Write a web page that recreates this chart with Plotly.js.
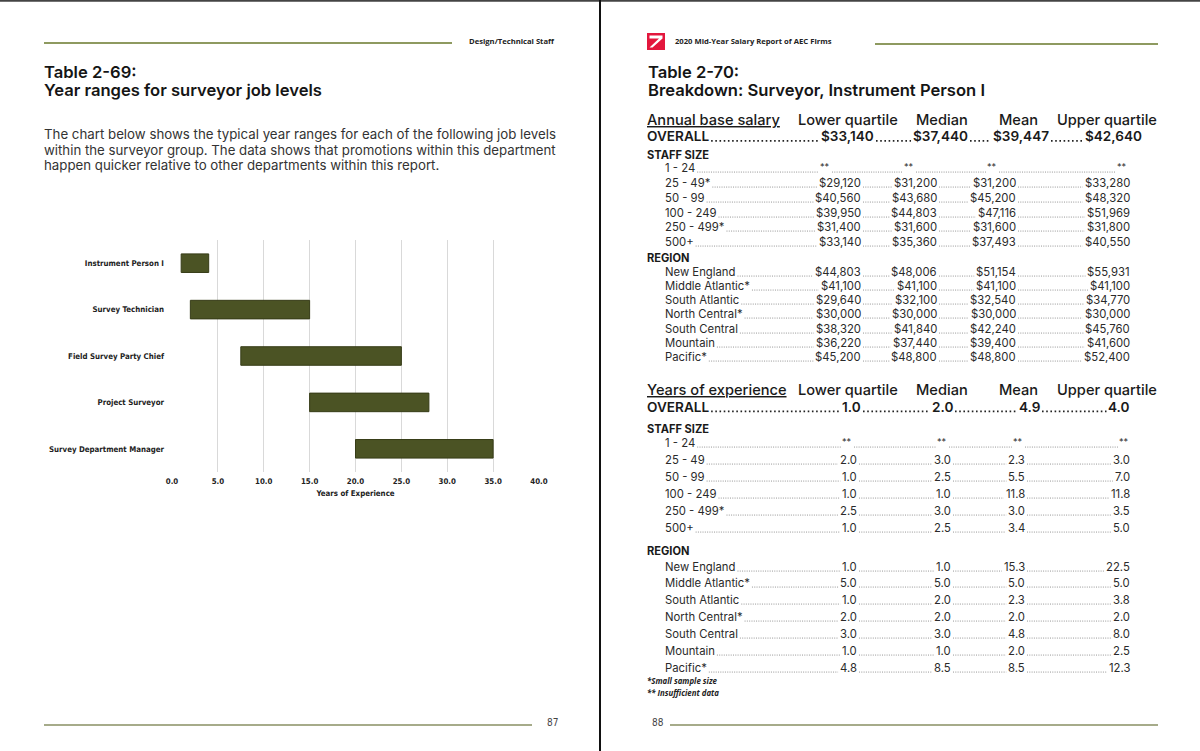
<!DOCTYPE html>
<html>
<head>
<meta charset="utf-8">
<script src="https://cdn.plot.ly/plotly-3.0.1.min.js"></script>
<style>
html,body{margin:0;padding:0;background:#fff;overflow:hidden;}
#chart{width:1200px;height:751px;}
</style>
</head>
<body>
<div id="chart"></div>
<script>
// ---------------- DATA ----------------
const jobLevels = ['Instrument Person I', 'Survey Technician', 'Field Survey Party Chief', 'Project Surveyor', 'Survey Department Manager'];
const startYears = [1.0, 2.0, 7.5, 15.0, 20.0];
const endYears = [4.0, 15.0, 25.0, 28.0, 35.0];
const xTickValues = [0, 5, 10, 15, 20, 25, 30, 35, 40];
const xTickLabels = ['0.0', '5.0', '10.0', '15.0', '20.0', '25.0', '30.0', '35.0', '40.0'];

const statColumns = ['Lower quartile', 'Median', 'Mean', 'Upper quartile'];
const salaryOverall = ['$33,140', '$37,440', '$39,447', '$42,640'];
const salaryStaffSizes = ['1 - 24', '25 - 49*', '50 - 99', '100 - 249', '250 - 499*', '500+'];
const salaryByStaff = [
  ['**', '**', '**', '**'],
  ['$29,120', '$31,200', '$31,200', '$33,280'],
  ['$40,560', '$43,680', '$45,200', '$48,320'],
  ['$39,950', '$44,803', '$47,116', '$51,969'],
  ['$31,400', '$31,600', '$31,600', '$31,800'],
  ['$33,140', '$35,360', '$37,493', '$40,550']
];
const regions = ['New England', 'Middle Atlantic*', 'South Atlantic', 'North Central*', 'South Central', 'Mountain', 'Pacific*'];
const salaryByRegion = [
  ['$44,803', '$48,006', '$51,154', '$55,931'],
  ['$41,100', '$41,100', '$41,100', '$41,100'],
  ['$29,640', '$32,100', '$32,540', '$34,770'],
  ['$30,000', '$30,000', '$30,000', '$30,000'],
  ['$38,320', '$41,840', '$42,240', '$45,760'],
  ['$36,220', '$37,440', '$39,400', '$41,600'],
  ['$45,200', '$48,800', '$48,800', '$52,400']
];
const yearsOverall = ['1.0', '2.0', '4.9', '4.0'];
const yearsStaffSizes = ['1 - 24', '25 - 49', '50 - 99', '100 - 249', '250 - 499*', '500+'];
const yearsByStaff = [
  ['**', '**', '**', '**'],
  ['2.0', '3.0', '2.3', '3.0'],
  ['1.0', '2.5', '5.5', '7.0'],
  ['1.0', '1.0', '11.8', '11.8'],
  ['2.5', '3.0', '3.0', '3.5'],
  ['1.0', '2.5', '3.4', '5.0']
];
const yearsByRegion = [
  ['1.0', '1.0', '15.3', '22.5'],
  ['5.0', '5.0', '5.0', '5.0'],
  ['1.0', '2.0', '2.3', '3.8'],
  ['2.0', '2.0', '2.0', '2.0'],
  ['3.0', '3.0', '4.8', '8.0'],
  ['1.0', '1.0', '2.0', '2.5'],
  ['4.8', '8.5', '8.5', '12.3']
];

// ---------------- HELPERS ----------------
const W = 1200, H = 751;
const px = x => x / W, py = y => 1 - y / H;
const SANS = "'Open Sans', 'Noto Sans', sans-serif";
const GEO = "Inter, 'Open Sans', sans-serif";
const NARROW = "'Liberation Sans Narrow', 'Arial Narrow', 'DejaVu Sans Condensed', sans-serif";
const ctx = document.createElement('canvas').getContext('2d');
function tw(text, size, weight, family, style) {
  ctx.font = (style || 'normal') + ' ' + (weight || 400) + ' ' + size + 'px ' + (family || SANS);
  return ctx.measureText(text.replace(/<[^>]+>/g, '')).width;
}
function fit(text, target, weight, family, style) {
  return +(100 * target / tw(text, 100, weight, family, style)).toFixed(2);
}
const ann = [], shp = [];
function txt(text, x, y, o) {
  o = o || {};
  ann.push({
    xref: 'paper', yref: 'paper', x: px(x), y: py(y), text: text, showarrow: false,
    xanchor: o.anchor || 'left', yanchor: 'middle', borderpad: 0, borderwidth: 0,
    font: {family: o.family || SANS, size: o.size || 12, color: o.color || '#222',
           weight: o.weight || 400, style: o.style || 'normal'}
  });
}
function line(x0, y0, x1, y1, color, width, dash) {
  shp.push({type: 'line', xref: 'paper', yref: 'paper', x0: px(x0), y0: py(y0), x1: px(x1), y1: py(y1),
            line: {color: color, width: width, dash: dash || 'solid'}});
}

// ---------------- PAGE FRAME ----------------
const RULE = '#8e9a60';
const FOOT = '#a6ab8a';
line(0, 0.8, 1200, 0.8, '#444', 2);
line(600, 0, 600, 751, '#111', 2);
line(44, 43, 452, 43, RULE, 2);
line(875, 44, 1158, 44, RULE, 2);
line(44, 725, 532, 725, FOOT, 2.2);
line(670, 725, 1158, 725, FOOT, 2.2);

// logo
shp.push({type: 'rect', xref: 'paper', yref: 'paper', x0: px(647), x1: px(665), y0: py(50), y1: py(33),
          fillcolor: '#e3173d', line: {width: 0}});
shp.push({type: 'path', xref: 'paper', yref: 'paper', fillcolor: '#ffffff', line: {width: 0},
          path: 'M ' + px(649.5) + ' ' + py(35.5) + ' L ' + px(662.5) + ' ' + py(35.5) + ' L ' + px(662.5) + ' ' + py(38.5) +
                ' L ' + px(652.5) + ' ' + py(47.5) + ' L ' + px(649.5) + ' ' + py(47.5) + ' L ' + px(659) + ' ' + py(38.5) +
                ' L ' + px(649.5) + ' ' + py(38.5) + ' Z'});

// small running heads
const runSize = fit('Design/Technical Staff', 85, 700, SANS);
txt('Design/Technical Staff', 555, 41, {anchor: 'right', size: runSize, weight: 700, color: '#222'});
txt('2020 Mid-Year Salary Report of AEC Firms', 675, 41, {size: runSize, weight: 700, color: '#222'});
txt('87', 547, 722, {family: NARROW, size: 10, color: '#444'});
txt('88', 652, 722, {family: NARROW, size: 10, color: '#444'});

// headings
const headSize = fit('Year ranges for surveyor job levels', 278, 600, GEO);
const hd = {family: GEO, size: headSize, weight: 600, color: '#151515'};
txt('Table 2-69:', 44, 71.5, hd);
txt('Year ranges for surveyor job levels', 44, 89.5, hd);
txt('Table 2-70:', 648, 71.5, hd);
txt('Breakdown: Surveyor, Instrument Person I', 648, 90, hd);

// paragraph (first two lines fill the measure, like the justified original)
const para = [
  'The chart below shows the typical year ranges for each of the following job levels',
  'within the surveyor group. The data shows that promotions within this department',
  'happen quicker relative to other departments within this report.'
];
const paraSize = fit(para[0], 512, 400, GEO);
const paraSize2 = fit(para[1], 512, 400, GEO);
txt(para[0], 44, 134, {family: GEO, size: paraSize, color: '#333'});
txt(para[1], 44, 149.7, {family: GEO, size: paraSize2, color: '#333'});
txt(para[2], 44, 165.4, {family: GEO, size: paraSize, color: '#333'});

// ---------------- TABLES ----------------
const hdrSize = fit('Upper quartile', 100, 500, GEO);
const colCenters = [848, 941.5, 1018.5, 1107];
const rowSize = fit('Middle Atlantic*', 85, 400, GEO);
const ovSize = fit('$42,640', 57, 600, GEO);
const secSize = fit('STAFF SIZE', 62, 700, GEO);

function header(first, y) {
  txt('<u>' + first + '</u>', 647, y, {family: GEO, size: hdrSize, weight: 500, color: '#1a1a1a'});
  statColumns.forEach((c, i) => txt(c, colCenters[i], y, {family: GEO, anchor: 'center', size: hdrSize, weight: 500, color: '#1a1a1a'}));
}
function row(label, labelX, y, values, edges, o) {
  const size = o.size, weight = o.weight || 400;
  txt(label, labelX, y, {family: GEO, size: size, weight: weight, color: o.color || '#2a2a2a'});
  let prev = labelX + tw(label, size, weight, GEO);
  const by = y + size * 0.36;
  values.forEach((v, i) => {
    const star = v === '**';
    const e = (star && o.starEdges) ? o.starEdges[i] : edges[i];
    const vs = star ? size * 0.8 : size;
    const w = tw(v, vs, weight, GEO);
    const s = e - w;
    if (s - prev > 5) line(prev + 2, by, s - 2, by, o.dotColor, o.dotWidth, o.dash);
    txt(v, e, star ? y - 2 : y, {family: GEO, anchor: 'right', size: vs, weight: weight, color: o.color || '#2a2a2a'});
    prev = e;
  });
}
const smallDots = {dotColor: '#8a8a8a', dotWidth: 0.9, dash: '1px,1.3px'};
const bigDots = {dotColor: '#222', dotWidth: 1.8, dash: '1.6px,2.6px'};

// salary block
header('Annual base salary', 119.5);
row('OVERALL', 647, 136, salaryOverall, [874, 968, 1049, 1142], Object.assign({size: ovSize, weight: 600, color: '#1a1a1a'}, bigDots));
txt('STAFF SIZE', 647, 154.5, {family: GEO, size: secSize, weight: 700, color: '#1a1a1a'});
const salStaffY = [168, 183, 198, 213, 227, 242];
salaryStaffSizes.forEach((l, i) => row(l, 665, salStaffY[i], salaryByStaff[i], [861, 937, 1016, 1130],
  Object.assign({size: rowSize, starEdges: [830, 914, 997, 1127]}, smallDots)));
txt('REGION', 647, 258, {family: GEO, size: secSize, weight: 700, color: '#1a1a1a'});
const salRegY = [272, 286, 300, 314, 329, 343, 357];
regions.forEach((l, i) => row(l, 665, salRegY[i], salaryByRegion[i], [861, 937, 1016, 1130], Object.assign({size: rowSize}, smallDots)));

// years block
header('Years of experience', 390);
row('OVERALL', 647, 406.5, yearsOverall, [861, 953, 1040, 1130], Object.assign({size: ovSize, weight: 600, color: '#1a1a1a'}, bigDots));
txt('STAFF SIZE', 647, 429, {family: GEO, size: secSize, weight: 700, color: '#1a1a1a'});
const yrStaffY = [443, 460, 477, 494, 511, 528];
yearsStaffSizes.forEach((l, i) => row(l, 665, yrStaffY[i], yearsByStaff[i], [857, 951, 1025, 1130],
  Object.assign({size: rowSize, starEdges: [852, 947, 1023, 1129]}, smallDots)));
txt('REGION', 647, 551, {family: GEO, size: secSize, weight: 700, color: '#1a1a1a'});
const yrRegY = [567, 583, 600, 617, 634, 651, 668];
regions.forEach((l, i) => row(l, 665, yrRegY[i], yearsByRegion[i], [857, 951, 1025, 1130], Object.assign({size: rowSize}, smallDots)));

const noteSize = fit('*Small sample size', 70, 700, SANS, 'italic');
txt('*Small sample size', 647, 681, {size: noteSize, weight: 700, style: 'italic', color: '#222'});
txt('** Insufficient data', 647, 693, {size: noteSize, weight: 700, style: 'italic', color: '#222'});

// ---------------- CHART ----------------
const tickSize = fit('Survey Department Manager', 115, 700, NARROW);
const trace = {
  type: 'bar', orientation: 'h',
  y: jobLevels,
  base: startYears,
  x: endYears.map((e, i) => e - startYears[i]),
  width: 0.4,
  marker: {color: '#4b5324', line: {color: '#363c17', width: 1}},
  hoverinfo: 'skip', showlegend: false
};
const layout = {
  width: W, height: H,
  margin: {l: 0, r: 0, t: 0, b: 0},
  paper_bgcolor: '#ffffff', plot_bgcolor: 'rgba(0,0,0,0)',
  font: {family: NARROW, color: '#222'},
  xaxis: {
    domain: [px(172), px(539)], range: [0, 40], tickvals: xTickValues, ticktext: xTickLabels,
    showgrid: true, gridcolor: '#d9d9d9', gridwidth: 1, zeroline: false, showline: false, ticks: '',
    tickfont: {family: NARROW, size: tickSize, color: '#222', weight: 700},
    ticklabelstandoff: 3,
    title: {text: 'Years of Experience', font: {family: NARROW, size: tickSize, color: '#222', weight: 700}, standoff: 5},
    automargin: false, fixedrange: true
  },
  yaxis: {
    domain: [py(472), py(240)], type: 'category', autorange: false, range: [4.5, -0.5],
    showgrid: false, zeroline: false, showline: false, ticks: '',
    tickfont: {family: NARROW, size: tickSize, color: '#222', weight: 700},
    ticklabelstandoff: 7, automargin: false, fixedrange: true
  },
  bargap: 0.6,
  shapes: shp,
  annotations: ann
};
Plotly.newPlot('chart', [trace], layout, {staticPlot: true, displayModeBar: false});
</script>
</body>
</html>
